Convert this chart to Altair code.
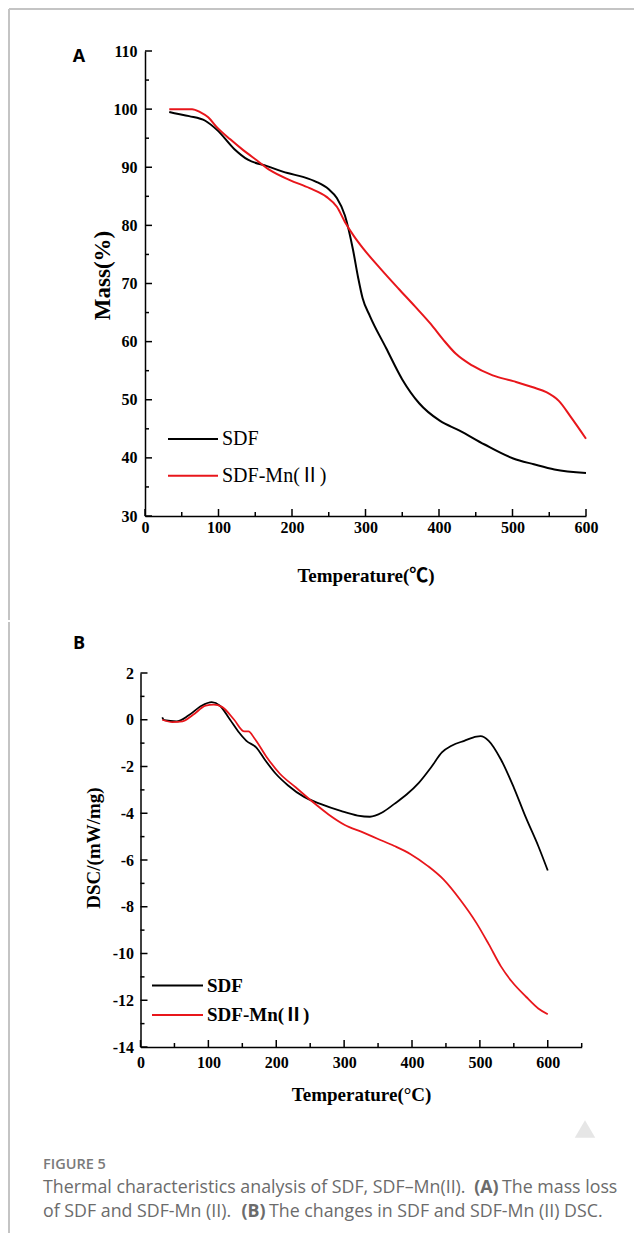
import altair as alt
import pandas as pd

# ---------------- data ----------------
series_names = ["SDF", "SDF-Mn(Ⅱ)"]
series_colors = ["#000000", "#e8161b"]

# Panel A: TG mass loss
a_sdf_t = [33, 40, 60, 82, 99, 121, 140, 166, 194, 216, 233, 250, 261, 272, 283, 290, 296, 306, 328, 350, 373, 401, 428, 462, 501, 529, 557, 600]
a_sdf_m = [99.5, 99.3, 98.8, 98.0, 96.3, 93.2, 91.3, 90.2, 89.0, 88.3, 87.5, 86.2, 84.7, 81.7, 75.8, 71.0, 67.5, 64.4, 58.9, 53.5, 49.4, 46.4, 44.7, 42.3, 39.9, 38.9, 38.0, 37.4]
a_mn_t = [33, 50, 64, 75, 86, 97, 116, 134, 152, 170, 197, 224, 247, 261, 272, 284, 297, 320, 345, 367, 389, 406, 423, 445, 473, 501, 529, 546, 563, 579, 600]
a_mn_m = [100, 100, 100, 99.5, 98.6, 97.0, 94.8, 92.9, 91.2, 89.5, 87.8, 86.4, 84.9, 83.2, 80.6, 78.2, 76.0, 72.6, 69.1, 66.1, 63.0, 60.3, 57.9, 55.9, 54.2, 53.2, 52.1, 51.3, 49.8, 47.1, 43.3]

# Panel B: DSC
b_sdf_t = [32, 35, 53, 71, 90, 105, 117, 132, 144, 156, 171, 183, 199, 217, 241, 265, 295, 320, 338, 356, 374, 392, 410, 429, 444, 459, 477, 495, 501, 513, 531, 550, 568, 586, 600]
b_sdf_d = [0.1, -0.02, -0.07, 0.19, 0.6, 0.75, 0.6, 0.0, -0.5, -0.9, -1.2, -1.7, -2.3, -2.8, -3.3, -3.6, -3.9, -4.1, -4.15, -3.97, -3.6, -3.2, -2.7, -2.0, -1.4, -1.1, -0.9, -0.72, -0.7, -0.9, -1.7, -2.9, -4.2, -5.4, -6.45]
b_mn_t = [32, 47, 62, 77, 96, 108, 120, 138, 153, 159, 168, 186, 205, 229, 253, 277, 301, 326, 350, 374, 398, 423, 447, 471, 495, 513, 531, 547, 568, 586, 600]
b_mn_d = [0.0, -0.1, -0.07, 0.2, 0.6, 0.65, 0.55, 0.0, -0.5, -0.5, -0.8, -1.6, -2.3, -2.9, -3.5, -4.05, -4.5, -4.8, -5.1, -5.4, -5.75, -6.25, -6.85, -7.7, -8.7, -9.6, -10.55, -11.2, -11.85, -12.35, -12.6]

# axis ticks
a_x_major = [0, 100, 200, 300, 400, 500, 600]
a_x_minor = [50, 150, 250, 350, 450, 550]
a_y_major = [30, 40, 50, 60, 70, 80, 90, 100, 110]
a_y_minor = [35, 45, 55, 65, 75, 85, 95, 105]
b_x_major = [0, 100, 200, 300, 400, 500, 600]
b_x_minor = [50, 150, 250, 350, 450, 550, 650]
b_y_major = [-14, -12, -10, -8, -6, -4, -2, 0, 2]
b_y_minor = [-13, -11, -9, -7, -5, -3, -1, 1]

caption_head = "FIGURE 5"
caption_l1 = ["Thermal characteristics analysis of SDF, SDF\u2013Mn(II).", "(A)", "The mass loss"]
caption_l2 = ["of SDF and SDF-Mn (II).", "(B)", "The changes in SDF and SDF-Mn (II) DSC."]

SERIF = "Liberation Serif"
SERIF_CJK = "Liberation Serif, Noto Sans CJK SC"
SANS = "Open Sans"

dfA = pd.concat([
    pd.DataFrame({"T": a_sdf_t, "V": a_sdf_m, "series": series_names[0]}),
    pd.DataFrame({"T": a_mn_t, "V": a_mn_m, "series": series_names[1]}),
])
dfB = pd.concat([
    pd.DataFrame({"T": b_sdf_t, "V": b_sdf_d, "series": series_names[0]}),
    pd.DataFrame({"T": b_mn_t, "V": b_mn_d, "series": series_names[1]}),
])

color_scale = alt.Scale(domain=series_names, range=series_colors)


def axis_common(**kw):
    base = dict(grid=False, ticks=False, tickSize=0, domainColor="black", domainWidth=1.5,
                labelFont=SERIF, labelFontSize=16, labelFontWeight="bold", labelColor="black",
                labelFlush=False, labelOverlap=False, labelExpr="'' + datum.value",
                titleFont=SERIF, titleFontWeight="bold",
                titleColor="black", titleBaseline="middle", titleAlign="center")
    base.update(kw)
    return alt.Axis(**base)


def tick_layers(xs, ys, xax, yax, xmaj, xmin, ymaj, ymin, H, x0=0):
    layers = []
    for vals, ln in ((ymaj, 7), (ymin, 4)):
        layers.append(alt.Chart(pd.DataFrame({"V": vals})).mark_rule(color="black", strokeWidth=1.5).encode(
            y=alt.Y("V:Q", scale=ys, axis=yax), x=alt.value(x0), x2=alt.value(x0 + ln)))
    for vals, ln in ((xmaj, 7), (xmin, 4)):
        layers.append(alt.Chart(pd.DataFrame({"T": vals})).mark_rule(color="black", strokeWidth=1.5).encode(
            x=alt.X("T:Q", scale=xs, axis=xax), y=alt.value(H), y2=alt.value(H - ln)))
    return layers


def legend_layers(x0, x1, ys, tx, weight, fs):
    layers = []
    for name, col, yy in zip(series_names, series_colors, ys):
        d = pd.DataFrame({"series": [name]})
        layers.append(alt.Chart(d).mark_rule(color=col, strokeWidth=2).encode(
            x=alt.value(x0), x2=alt.value(x1), y=alt.value(yy)))
        layers.append(alt.Chart(d).mark_text(font=SERIF_CJK, fontSize=fs, fontWeight=weight, align="left",
                                             baseline="middle", color="black").encode(
            x=alt.value(tx), y=alt.value(yy), text="series:N"))
    return layers


one = pd.DataFrame({"k": [0]})
FRAME = "#c4c4c4"

# ---------------- Panel A ----------------
WA, HA = 441, 465
xsA = alt.Scale(domain=[0, 600], nice=False, zero=False)
ysA = alt.Scale(domain=[30, 110], nice=False, zero=False)
axAx = axis_common(values=a_x_major, title="Temperature(℃)", titleFont=SERIF_CJK, titleFontSize=19,
                   titleX=WA / 2, titleY=59, labelPadding=3)
axAy = axis_common(values=a_y_major, title="Mass(%)", titleFontSize=23, titleX=-43, titleY=224, labelPadding=8)

linesA = alt.Chart(dfA).mark_line(strokeWidth=2, interpolate="monotone").encode(
    x=alt.X("T:Q", scale=xsA, axis=axAx),
    y=alt.Y("V:Q", scale=ysA, axis=axAy),
    color=alt.Color("series:N", scale=color_scale, legend=None),
)

frameA_top = alt.Chart(one).mark_rule(color=FRAME, strokeWidth=2).encode(
    x=alt.value(-136), x2=alt.value(489), y=alt.value(-42))
frameA_left = alt.Chart(one).mark_rule(color=FRAME, strokeWidth=2).encode(
    x=alt.value(-136), y=alt.value(-42), y2=alt.value(569))
labelA = alt.Chart(pd.DataFrame({"t": ["A"]})).mark_text(font=SANS, fontSize=18, fontWeight="bold",
                                                         color="black", align="center", baseline="middle").encode(
    x=alt.value(-66), y=alt.value(5.5), text="t:N")

panelA = alt.layer(
    linesA, frameA_top, frameA_left, labelA,
    *tick_layers(xsA, ysA, axAx, axAy, a_x_major, a_x_minor, a_y_major, a_y_minor, HA),
    *legend_layers(23, 73, [388, 424.7], 77, "normal", 20),
).properties(width=WA, height=HA)

# ---------------- Panel B ----------------
# the plot group shares its left edge with panel A; the B axis sits 4.5 px further left
SHIFT = -4.5
WB, HB = 441, 374
xsB = alt.Scale(domain=[0, 650], range=[SHIFT, 436.7], nice=False, zero=False)
ysB = alt.Scale(domain=[-14, 2], nice=False, zero=False)
axBx = axis_common(values=b_x_major, title="Temperature(°C)", titleFontSize=19, titleX=216.1, titleY=47,
                   labelPadding=7)
axBy = axis_common(values=b_y_major, title="DSC/(mW/mg)", titleFontSize=19, titleX=-42.5 + SHIFT,
                   titleY=174.5, labelPadding=7, offset=-SHIFT)

linesB = alt.Chart(dfB).mark_line(strokeWidth=1.8, interpolate="monotone").encode(
    x=alt.X("T:Q", scale=xsB, axis=axBx),
    y=alt.Y("V:Q", scale=ysB, axis=axBy),
    color=alt.Color("series:N", scale=color_scale, legend=None),
)

frameB_left = alt.Chart(one).mark_rule(color=FRAME, strokeWidth=2).encode(
    x=alt.value(-136), y=alt.value(-51), y2=alt.value(560))
labelB = alt.Chart(pd.DataFrame({"t": ["B"]})).mark_text(font=SANS, fontSize=18, fontWeight="bold",
                                                         color="black", align="center", baseline="middle").encode(
    x=alt.value(-61.5 + SHIFT), y=alt.value(-29), text="t:N")

watermark = alt.Chart(one).mark_point(shape="triangle-up", filled=True, color="#e6e6e6", opacity=1, size=420).encode(
    x=alt.value(440), y=alt.value(456))

CAP_FS = 17.8
cap_layers = []
cap_layers.append(alt.Chart(pd.DataFrame({"t": [caption_head]})).mark_text(
    font=SANS, fontSize=14.5, fontWeight=600, color="#7a7a7a", align="left", baseline="middle").encode(
    x=alt.value(-97.5 + SHIFT), y=alt.value(492), text="t:N"))
for segs, yy, xs_ in ((caption_l1, 515, [-97.5, 333.8, 361.5]), (caption_l2, 539, [-97.5, 101, 128.5])):
    for i, (s, xx) in enumerate(zip(segs, xs_)):
        cap_layers.append(alt.Chart(pd.DataFrame({"t": [s]})).mark_text(
            font=SANS, fontSize=CAP_FS, fontWeight="bold" if i == 1 else "normal", color="#6b6b6b",
            align="left", baseline="middle").encode(x=alt.value(xx + SHIFT), y=alt.value(yy), text="t:N"))

panelB = alt.layer(
    linesB, frameB_left, labelB, watermark,
    *tick_layers(xsB, ysB, axBx, axBy, b_x_major, b_x_minor, b_y_major, b_y_minor, HB, x0=SHIFT),
    *legend_layers(11.5 + SHIFT, 62.5 + SHIFT, [312.5, 342], 66.5 + SHIFT, "bold", 19),
    *cap_layers,
).properties(width=WB, height=HB)

chart = alt.concat(panelA, panelB, columns=1, spacing=0, align="none").properties(
    padding=0).configure_view(strokeWidth=0)

chart.save("out.html", embed_options={"renderer": "svg", "actions": False})
